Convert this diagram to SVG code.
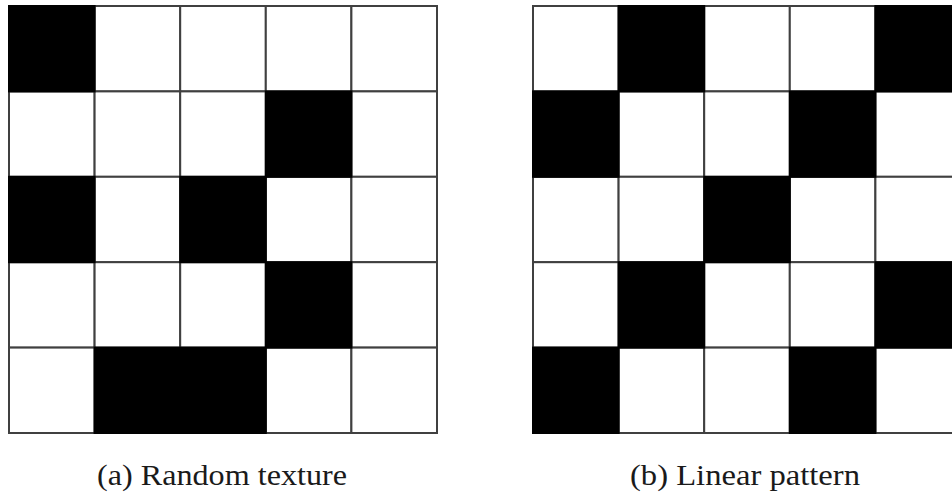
<svg xmlns="http://www.w3.org/2000/svg" width="952" height="493" viewBox="0 0 952 493">
<style>
.w{fill:#fff;stroke:#404040;stroke-width:2}
.b{fill:#000;stroke:#000;stroke-width:2}
.cap{font-family:"Liberation Serif","Times New Roman",serif;font-size:29px;fill:#1a1a1a}
</style>
<rect width="952" height="493" fill="#fff"/>
<g id="grid-a">
<rect class="w" x="94.6" y="6" width="85.6" height="85.4"/>
<rect class="w" x="180.2" y="6" width="85.6" height="85.4"/>
<rect class="w" x="265.8" y="6" width="85.6" height="85.4"/>
<rect class="w" x="351.4" y="6" width="85.6" height="85.4"/>
<rect class="w" x="9" y="91.4" width="85.6" height="85.4"/>
<rect class="w" x="94.6" y="91.4" width="85.6" height="85.4"/>
<rect class="w" x="180.2" y="91.4" width="85.6" height="85.4"/>
<rect class="w" x="351.4" y="91.4" width="85.6" height="85.4"/>
<rect class="w" x="94.6" y="176.8" width="85.6" height="85.4"/>
<rect class="w" x="265.8" y="176.8" width="85.6" height="85.4"/>
<rect class="w" x="351.4" y="176.8" width="85.6" height="85.4"/>
<rect class="w" x="9" y="262.2" width="85.6" height="85.4"/>
<rect class="w" x="94.6" y="262.2" width="85.6" height="85.4"/>
<rect class="w" x="180.2" y="262.2" width="85.6" height="85.4"/>
<rect class="w" x="351.4" y="262.2" width="85.6" height="85.4"/>
<rect class="w" x="9" y="347.6" width="85.6" height="85.4"/>
<rect class="w" x="265.8" y="347.6" width="85.6" height="85.4"/>
<rect class="w" x="351.4" y="347.6" width="85.6" height="85.4"/>
<rect class="b" x="9" y="6" width="85.6" height="85.4"/>
<rect class="b" x="265.8" y="91.4" width="85.6" height="85.4"/>
<rect class="b" x="9" y="176.8" width="85.6" height="85.4"/>
<rect class="b" x="180.2" y="176.8" width="85.6" height="85.4"/>
<rect class="b" x="265.8" y="262.2" width="85.6" height="85.4"/>
<rect class="b" x="94.6" y="347.6" width="171.2" height="85.4"/>
</g>
<g id="grid-b">
<rect class="w" x="533" y="6" width="85.6" height="85.4"/>
<rect class="w" x="704.2" y="6" width="85.6" height="85.4"/>
<rect class="w" x="789.8" y="6" width="85.6" height="85.4"/>
<rect class="w" x="618.6" y="91.4" width="85.6" height="85.4"/>
<rect class="w" x="704.2" y="91.4" width="85.6" height="85.4"/>
<rect class="w" x="875.4" y="91.4" width="85.6" height="85.4"/>
<rect class="w" x="533" y="176.8" width="85.6" height="85.4"/>
<rect class="w" x="618.6" y="176.8" width="85.6" height="85.4"/>
<rect class="w" x="789.8" y="176.8" width="85.6" height="85.4"/>
<rect class="w" x="875.4" y="176.8" width="85.6" height="85.4"/>
<rect class="w" x="533" y="262.2" width="85.6" height="85.4"/>
<rect class="w" x="704.2" y="262.2" width="85.6" height="85.4"/>
<rect class="w" x="789.8" y="262.2" width="85.6" height="85.4"/>
<rect class="w" x="618.6" y="347.6" width="85.6" height="85.4"/>
<rect class="w" x="704.2" y="347.6" width="85.6" height="85.4"/>
<rect class="w" x="875.4" y="347.6" width="85.6" height="85.4"/>
<rect class="b" x="618.6" y="6" width="85.6" height="85.4"/>
<rect class="b" x="875.4" y="6" width="85.6" height="85.4"/>
<rect class="b" x="533" y="91.4" width="85.6" height="85.4"/>
<rect class="b" x="789.8" y="91.4" width="85.6" height="85.4"/>
<rect class="b" x="704.2" y="176.8" width="85.6" height="85.4"/>
<rect class="b" x="618.6" y="262.2" width="85.6" height="85.4"/>
<rect class="b" x="875.4" y="262.2" width="85.6" height="85.4"/>
<rect class="b" x="533" y="347.6" width="85.6" height="85.4"/>
<rect class="b" x="789.8" y="347.6" width="85.6" height="85.4"/>
</g>
<g id="connectors"></g>
<text class="cap" x="97" y="485" textLength="250" lengthAdjust="spacingAndGlyphs">(a) Random texture</text>
<text class="cap" x="630" y="485" textLength="230" lengthAdjust="spacingAndGlyphs">(b) Linear pattern</text>
</svg>
